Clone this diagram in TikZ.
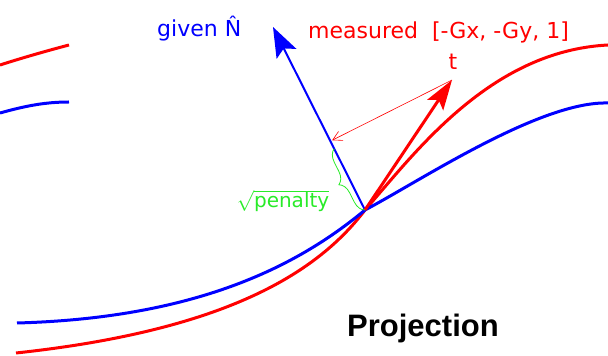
\documentclass[tikz,border=0pt]{standalone}
\usepackage{fontspec}
\setmainfont{DejaVu Sans}
\newfontfamily\titlefont{Liberation Sans}
\usetikzlibrary{arrows.meta,calc,decorations.pathreplacing}
\definecolor{penaltygreen}{RGB}{40,235,40}
\begin{document}
\begin{tikzpicture}[x=1pt, y=1pt]
    \useasboundingbox (0,0) rectangle (608,356);
    \tikzset{
        curve/.style={line width=3pt},
        label/.style={font=\fontsize{22}{26}\selectfont, inner sep=0pt}
    }
    \coordinate (o) at (365,146);
    % measured surface (red)
    \draw[red, curve] (16,3) .. controls (220,25) and (315,80) .. (o)
        .. controls (415,203) and (490,305) .. (608,311);
    \draw[red, curve] (0,291) .. controls (25,299) and (50,306) .. (69,311);
    % given surface (blue)
    \draw[blue, curve] (17,33) .. controls (200,38) and (300,92) .. (o)
        .. controls (420,175) and (540,255) .. (608,253);
    \draw[blue, curve] (0,243) .. controls (25,250) and (45,254) .. (69,254);
    % vectors
    \coordinate (ntip) at (273,329);
    \coordinate (ttip) at (452,276);
    \coordinate (foot) at ($(o)!(ttip)!(ntip)$);
    \coordinate (bracetop) at ($(o)!0.89!(foot)$);
    \draw[blue, line width=2pt, -{Stealth[length=30pt, width=22pt, inset=6pt]}] (o) -- (ntip);
    \draw[red, line width=3pt, -{Stealth[length=30pt, width=19pt, inset=6pt]}] (o) -- (ttip);
    \draw[red, line width=0.6pt, shorten >=2pt, -{Straight Barb[length=9pt, width=10pt]}]
        (ttip) -- (foot);
    % penalty brace
    \draw[penaltygreen, line width=0.8pt, decorate, decoration={brace, amplitude=12pt}]
        (o) -- (bracetop);
    % labels
    \node[label, blue, anchor=base west] (given) at (157,319) {given \^{N}};
    \node[label, red, anchor=base west] (measured) at (308,317) {measured~~[-Gx, -Gy, 1]};
    \node[label, red, anchor=base] (tlabel) at (453,286) {t};
    \node[label, penaltygreen, font=\fontsize{20}{24}\selectfont] (penalty) at (283,155)
        {$\sqrt{\mbox{penalty}}$};
    \node[inner sep=0pt, anchor=base west, font=\titlefont\bfseries\fontsize{31}{36}\selectfont]
        (title) at (347,19) {Projection};
\end{tikzpicture}
\end{document}
